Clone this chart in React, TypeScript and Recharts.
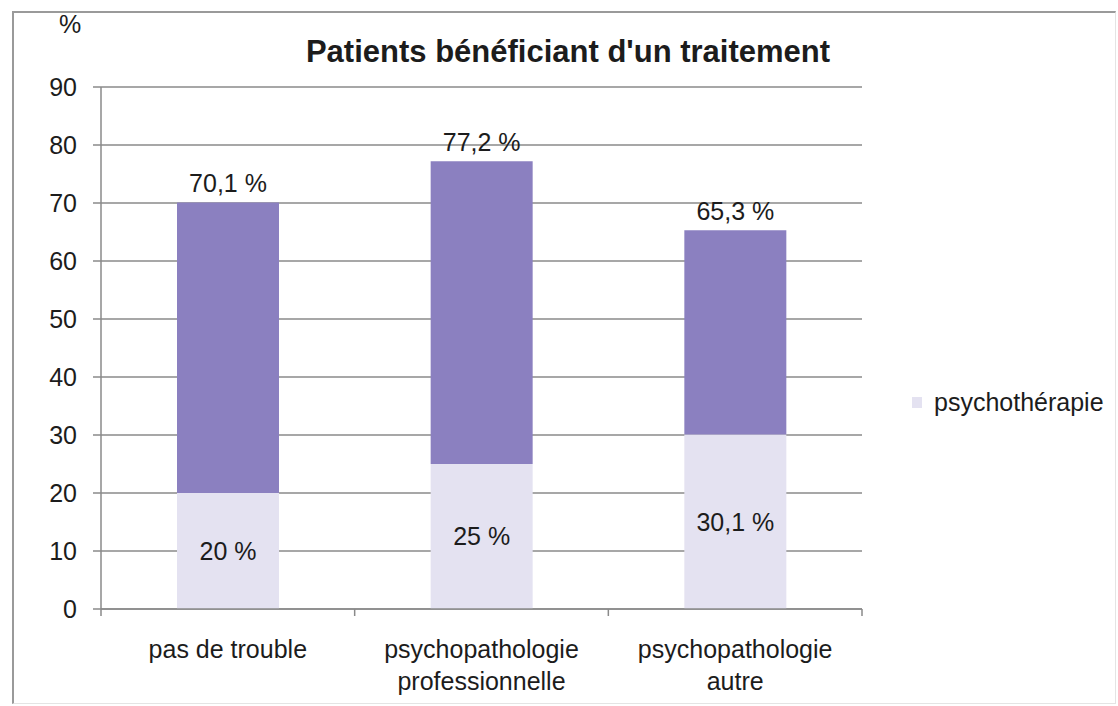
import React from 'react';
import { BarChart, Bar, XAxis, YAxis, CartesianGrid, LabelList } from 'recharts';

const categories = ['pas de trouble', 'psychopathologie professionnelle', 'psychopathologie autre'];
const categoryLines = [['pas de trouble'], ['psychopathologie', 'professionnelle'], ['psychopathologie', 'autre']];
const psychotherapie = [20, 25, 30.1];
const totals = [70.1, 77.2, 65.3];
const psychoLabels = ['20 %', '25 %', '30,1 %'];
const totalLabels = ['70,1 %', '77,2 %', '65,3 %'];
const yTicks = [0, 10, 20, 30, 40, 50, 60, 70, 80, 90];

const data = categories.map((c, i) => ({
  name: c,
  psycho: psychotherapie[i],
  rest: +(totals[i] - psychotherapie[i]).toFixed(1),
  psychoLabel: psychoLabels[i],
  totalLabel: totalLabels[i],
}));

const W = 1118;
const H = 706;
const M = { top: 87, right: 256, bottom: 17, left: 21 };
const Y_W = 80;
const PLOT_W = W - M.left - Y_W - M.right;
const BAND = PLOT_W / categories.length;
const FONT = '"Liberation Sans", Arial, sans-serif';
const TEXT = '#1c1c1c';
const AXIS = '#8a8a8a';
const LIGHT = '#e4e2f1';
const DARK = '#8b80c0';

const XTick = (props: any) => {
  const { x, y, index } = props;
  const lines = categoryLines[index] || [];
  return (
    <g>
      <line x1={x + BAND / 2} x2={x + BAND / 2} y1={y} y2={y + 7} stroke={AXIS} strokeWidth={1.5} />
      {index === 0 && <line x1={x - BAND / 2} x2={x - BAND / 2} y1={y} y2={y + 7} stroke={AXIS} strokeWidth={1.5} />}
      {lines.map((l, i) => (
        <text key={i} x={x} y={y + 49 + i * 32} textAnchor="middle" fontSize={25} fill={TEXT} fontFamily={FONT}>
          {l}
        </text>
      ))}
    </g>
  );
};

export default function App() {
  return (
    <div style={{ position: 'absolute', left: 0, top: 0, width: W, height: H, background: '#fff', fontFamily: FONT }}>
      <div
        style={{
          position: 'absolute',
          left: 12,
          top: 11,
          width: 1104,
          height: 693,
          borderTop: '2px solid #9a9a9a',
          borderLeft: '2px solid #9a9a9a',
          borderRight: '1px solid #e4e4e4',
          borderBottom: '1px solid #e4e4e4',
          boxSizing: 'border-box',
        }}
      />
      <div style={{ position: 'absolute', left: 0, top: 0 }}>
        <BarChart width={W} height={H} data={data} margin={M} barSize={102}>
          <CartesianGrid horizontal vertical={false} stroke={AXIS} strokeWidth={1.3} />
          <XAxis
            dataKey="name"
            axisLine={{ stroke: AXIS, strokeWidth: 1.5 }}
            tickLine={false}
            tickSize={0}
            tickMargin={0}
            height={80}
            tick={<XTick />}
            interval={0}
          />
          <YAxis
            domain={[0, 90]}
            ticks={yTicks}
            width={Y_W}
            axisLine={{ stroke: AXIS, strokeWidth: 1.5 }}
            tickLine={{ stroke: AXIS, strokeWidth: 1.5 }}
            tickSize={8}
            tickMargin={16}
            tick={{ fontSize: 25, fill: TEXT, fontFamily: FONT }}
          />
          <Bar dataKey="psycho" stackId="a" fill={LIGHT} isAnimationActive={false} name="psychothérapie">
            <LabelList dataKey="psychoLabel" position="center" fontSize={25} fill={TEXT} fontFamily={FONT} />
          </Bar>
          <Bar dataKey="rest" stackId="a" fill={DARK} isAnimationActive={false} legendType="none">
            <LabelList dataKey="totalLabel" position="top" offset={10} fontSize={25} fill={TEXT} fontFamily={FONT} />
          </Bar>
        </BarChart>
      </div>
      <div
        style={{
          position: 'absolute',
          left: 912,
          top: 388,
          display: 'flex',
          alignItems: 'center',
          fontSize: 25,
          color: TEXT,
          whiteSpace: 'nowrap',
        }}
      >
        <span style={{ display: 'inline-block', width: 10, height: 11, background: LIGHT, marginRight: 12 }} />
        <span>psychothérapie</span>
      </div>
      <div style={{ position: 'absolute', left: 59, top: 10, fontSize: 25, color: TEXT }}>%</div>
      <div
        style={{
          position: 'absolute',
          left: 0,
          width: 1136,
          top: 34,
          textAlign: 'center',
          fontSize: 31,
          fontWeight: 'bold',
          color: TEXT,
        }}
      >
        Patients bénéficiant d'un traitement
      </div>
    </div>
  );
}
